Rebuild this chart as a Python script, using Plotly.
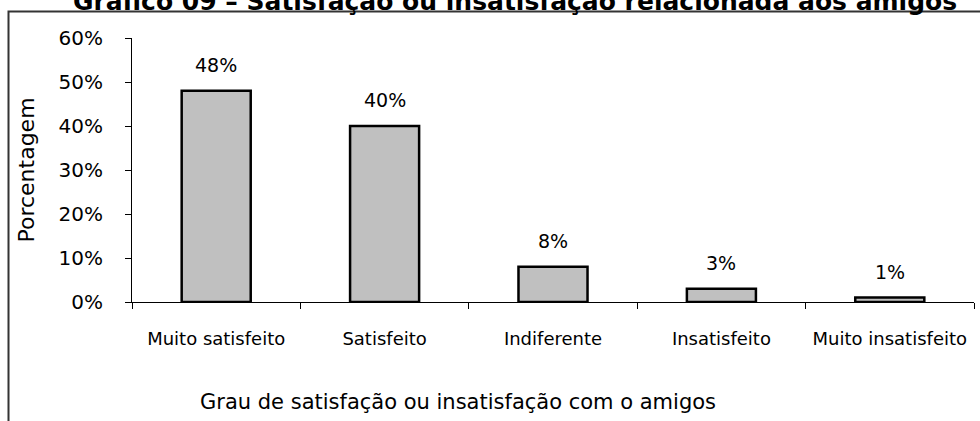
import plotly.graph_objects as go

categories = ["Muito satisfeito", "Satisfeito", "Indiferente", "Insatisfeito", "Muito insatisfeito"]
values = [48, 40, 8, 3, 1]
y_ticks = [0, 10, 20, 30, 40, 50, 60]
title_text = "Gráfico 09 – Satisfação ou insatisfação relacionada aos amigos"
x_title = "Grau de satisfação ou insatisfação com o amigos"
y_title = "Porcentagem"

FONT = "DejaVu Sans, Arial, sans-serif"

W, H = 980, 421
L, R, T, B = 132, 6, 38, 119
plot_w = W - L - R
plot_h = H - T - B

fig = go.Figure()
fig.add_trace(go.Bar(
    x=categories, y=values, width=0.41,
    marker=dict(color="#C0C0C0", line=dict(color="black", width=2.5)),
    hoverinfo="skip", showlegend=False,
))

for c, v in zip(categories, values):
    fig.add_annotation(x=c, y=v, text=f"{v}%", showarrow=False, yanchor="bottom",
                       yshift=13, font=dict(family=FONT, size=19, color="black"))

# x-axis title annotation (offset left as in original)
fig.add_annotation(xref="paper", yref="paper", x=(458 - L) / plot_w, y=(H - B - 402) / plot_h,
                   text=x_title, showarrow=False, xanchor="center", yanchor="middle",
                   font=dict(family=FONT, size=21, color="black"))

# frame border
xl = (8.5 - L) / plot_w
yt = (H - B - 11.5) / plot_h
yb = (H - B - 440) / plot_h
fig.add_shape(type="path", xref="paper", yref="paper",
              path=f"M {xl} {yb} L {xl} {yt} L 1.1 {yt}",
              line=dict(color="#333333", width=2))

fig.update_layout(
    width=W, height=H,
    margin=dict(l=L, r=R, t=T, b=B),
    paper_bgcolor="white", plot_bgcolor="white",
    title=dict(text=f"<b>{title_text}</b>", x=515 / W, xanchor="center",
               y=(H - 9.5) / H, yanchor="bottom", yref="container",
               font=dict(family=FONT, size=25, color="black")),
    bargap=0.59,
    xaxis=dict(type="category", tickson="boundaries", ticks="outside", ticklen=6,
               tickcolor="black", showline=True, linecolor="black", linewidth=1,
               showgrid=False, ticklabelstandoff=20,
               tickfont=dict(family=FONT, size=18, color="black")),
    yaxis=dict(range=[0, 60], tickvals=y_ticks, ticktext=[f"{t}%" for t in y_ticks],
               ticks="outside", ticklen=6, tickcolor="black", showline=True,
               linecolor="black", linewidth=1, showgrid=False, zeroline=False,
               ticklabelstandoff=18,
               tickfont=dict(family=FONT, size=20, color="black"),
               title=dict(text=y_title, standoff=17,
                          font=dict(family=FONT, size=22, color="black"))),
)

fig.write_html("out.html", config={"displayModeBar": False},
               post_script="document.body.style.margin='0';")
